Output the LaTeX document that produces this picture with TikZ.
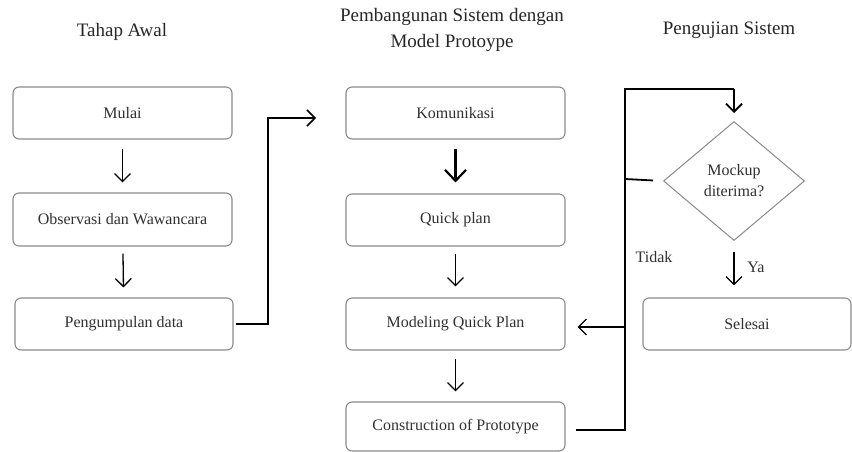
\documentclass[tikz,border=0pt]{standalone}
\usepackage{fontspec}
\setmainfont{Liberation Serif}
\usetikzlibrary{arrows.meta,shapes.geometric,calc}
\definecolor{boxgray}{HTML}{8A8A8A}
\definecolor{textgray}{HTML}{303030}
\begin{document}
\begin{tikzpicture}[x=1pt,y=-1pt,
  box/.style={draw=boxgray, line width=1.1pt, rounded corners=6pt, inner sep=0pt,
    text=textgray, font=\fontsize{16}{19}\selectfont, minimum width=219pt},
  dec/.style={draw=boxgray, line width=1pt, shape=diamond, inner sep=0pt,
    minimum width=141pt, minimum height=119pt, align=center,
    text=textgray, font=\fontsize{16}{21}\selectfont},
  ttl/.style={font=\fontsize{19}{26}\selectfont, text=black!85, align=center},
  lbl/.style={font=\fontsize{16}{19}\selectfont, text=textgray},
  arr/.style={-{Straight Barb[length=8pt,width=16pt]}, line width=1.3pt},
  tharr/.style={-{Straight Barb[length=11pt,width=21pt]}, line width=2.2pt},
  loop/.style={line width=1.8pt}
]
\useasboundingbox (0,0) rectangle (852,452);

% titles
\node[ttl] (t1) at (122,32) {Tahap Awal};
\node[ttl] (t2) at (452,30) {Pembangunan Sistem dengan\\Model Protoype};
\node[ttl] (t3) at (729,30) {Pengujian Sistem};

% left column
\node[box, minimum height=52pt] (mulai) at (122.5,113) {Mulai};
\node[box, minimum height=53pt] (obs) at (122.5,219.5) {Observasi dan Wawancara};
\node[box, minimum width=218pt, minimum height=52pt] (peng) at (124,324) {Pengumpulan data};

% middle column
\node[box, minimum height=52pt] (kom) at (455.5,113) {Komunikasi};
\node[box, minimum height=52pt] (qp) at (455.5,220) {Quick plan};
\node[box, minimum height=52pt] (mqp) at (455.5,324) {Modeling Quick Plan};
\node[box, minimum height=49pt] (cop) at (455.5,426.5) {Construction of Prototype};

% right column
\node[dec] (dm) at (734,181) {Mockup\\diterima?};
\node[box, minimum width=208pt, minimum height=52pt] (sel) at (747,324) {Selesai};
\node[lbl] (tidak) at (654,257) {Tidak};
\node[lbl] (ya) at (756,267) {Ya};

% vertical arrows
\draw[arr, shorten <=9pt, shorten >=10pt] (mulai) -- (obs);
\draw[arr, shorten <=7pt, shorten >=10pt] (obs) -- (peng);
\draw[tharr, shorten <=9pt, shorten >=11pt] (kom) -- (qp);
\draw[arr, shorten <=7pt, shorten >=11pt] (qp) -- (mqp);
\draw[arr, shorten <=8pt, shorten >=10pt] (mqp) -- (cop);
\draw[arr, shorten <=11pt, shorten >=12pt] (dm.south) -- (dm.south |- sel.north);

% Pengumpulan -> Komunikasi
\coordinate (pk1) at (268,324);
\coordinate (pk2) at (268,118);
\coordinate (pk3) at (316,118);
\draw[arr, line width=1.5pt, shorten <=2pt] (peng.east) -- (pk1) -- (pk2) -- (pk3);

% feedback loop
\coordinate (lp1) at (625,430);
\coordinate (lp2) at (625,89);
\coordinate (lp3) at (734,89);
\coordinate (lp4) at (734,113);
\coordinate (lpm) at (625,327);
\coordinate (lpd) at (625,179);
\draw[loop, shorten <=10pt] (cop.east |- lp1) -- (lp1) -- (lp2) -- (lp3);
\draw[arr, line width=1.8pt] (lp3) -- (lp4);
\draw[loop, shorten <=10pt] (dm.west) -- (lpd);
\draw[arr, shorten >=12pt] (lpm) -- (mqp.east |- lpm);
\end{tikzpicture}
\end{document}
